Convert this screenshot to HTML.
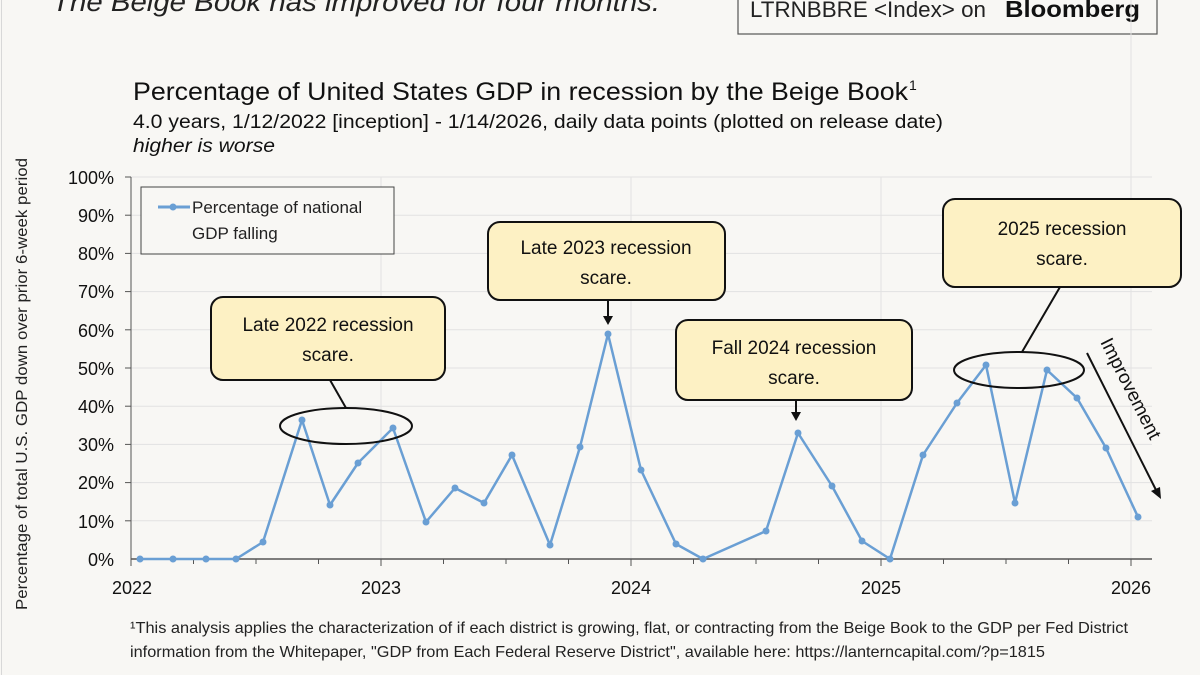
<!DOCTYPE html>
<html><head><meta charset="utf-8"><style>
html,body{margin:0;padding:0;background:#f8f7f4;}
svg{display:block;font-family:"Liberation Sans",sans-serif;}
</style></head><body>
<svg width="1200" height="675" viewBox="0 0 1200 675" xmlns="http://www.w3.org/2000/svg">
<rect width="1200" height="675" fill="#f8f7f4"/>
<line x1="1.5" y1="0" x2="1.5" y2="675" stroke="#d8d8d8"/>
<text x="52" y="11" font-size="27" font-style="italic" fill="#222" textLength="608" lengthAdjust="spacingAndGlyphs">The Beige Book has improved for four months.</text>
<rect x="738" y="-5" width="419" height="39" fill="#f8f7f4" stroke="#555" stroke-width="1.2"/>
<text x="750" y="17" font-size="22" fill="#222" textLength="236" lengthAdjust="spacingAndGlyphs">LTRNBBRE &lt;Index&gt; on</text>
<text x="1005" y="17" font-size="23" font-weight="bold" fill="#111" textLength="135" lengthAdjust="spacingAndGlyphs">Bloomberg</text>
<text x="133" y="100" font-size="25" fill="#111" textLength="775" lengthAdjust="spacingAndGlyphs">Percentage of United States GDP in recession by the Beige Book</text>
<text x="909" y="90" font-size="14" fill="#111">1</text>
<text x="133" y="128" font-size="19" fill="#111" textLength="810" lengthAdjust="spacingAndGlyphs">4.0 years, 1/12/2022 [inception] - 1/14/2026, daily data points (plotted on release date)</text>
<text x="133" y="152" font-size="19" font-style="italic" fill="#111" textLength="142" lengthAdjust="spacingAndGlyphs">higher is worse</text>
<text transform="translate(27,610) rotate(-90)" font-size="16" fill="#222" textLength="452" lengthAdjust="spacingAndGlyphs">Percentage of total U.S. GDP down over prior 6-week period</text>
<g stroke="#e2e2e2" stroke-width="1">
<line x1="131" y1="177" x2="1152" y2="177"/><line x1="131" y1="215.2" x2="1152" y2="215.2"/><line x1="131" y1="253.4" x2="1152" y2="253.4"/><line x1="131" y1="291.6" x2="1152" y2="291.6"/><line x1="131" y1="329.8" x2="1152" y2="329.8"/><line x1="131" y1="368" x2="1152" y2="368"/><line x1="131" y1="406.2" x2="1152" y2="406.2"/><line x1="131" y1="444.4" x2="1152" y2="444.4"/><line x1="131" y1="482.6" x2="1152" y2="482.6"/><line x1="131" y1="520.8" x2="1152" y2="520.8"/>
<line x1="381" y1="177" x2="381" y2="559"/><line x1="631" y1="177" x2="631" y2="559"/><line x1="881" y1="177" x2="881" y2="559"/><line x1="1131" y1="177" x2="1131" y2="559"/>
</g>
<line x1="1131" y1="0" x2="1131" y2="177" stroke="#e2e2e2"/>
<g stroke="#555" stroke-width="1">
<line x1="131" y1="177" x2="131" y2="559"/><line x1="125" y1="177" x2="131" y2="177"/><line x1="125" y1="215.2" x2="131" y2="215.2"/><line x1="125" y1="253.4" x2="131" y2="253.4"/><line x1="125" y1="291.6" x2="131" y2="291.6"/><line x1="125" y1="329.8" x2="131" y2="329.8"/><line x1="125" y1="368" x2="131" y2="368"/><line x1="125" y1="406.2" x2="131" y2="406.2"/><line x1="125" y1="444.4" x2="131" y2="444.4"/><line x1="125" y1="482.6" x2="131" y2="482.6"/><line x1="125" y1="520.8" x2="131" y2="520.8"/>
<line x1="131" y1="559" x2="1152" y2="559" stroke-width="1.5"/>
<path d="M131 559v7M381 559v7M631 559v7M881 559v7M1131 559v7M193.5 559v5M256 559v5M318.5 559v5M443.5 559v5M506 559v5M568.5 559v5M693.5 559v5M756 559v5M818.5 559v5M943.5 559v5M1006 559v5M1068.5 559v5"/>
</g>
<g font-size="18" fill="#111" text-anchor="end">
<text x="114" y="184">100%</text><text x="114" y="222">90%</text><text x="114" y="260">80%</text><text x="114" y="298">70%</text><text x="114" y="337">60%</text><text x="114" y="375">50%</text><text x="114" y="413">40%</text><text x="114" y="451">30%</text><text x="114" y="489">20%</text><text x="114" y="528">10%</text><text x="114" y="566">0%</text>
</g>
<g font-size="18" fill="#111" text-anchor="middle">
<text x="132" y="594">2022</text><text x="381" y="594">2023</text><text x="631" y="594">2024</text><text x="881" y="594">2025</text><text x="1131" y="594">2026</text>
</g>
<rect x="141" y="187" width="253" height="67" fill="#f8f7f4" stroke="#444"/>
<line x1="158" y1="207" x2="190" y2="207" stroke="#6a9fd4" stroke-width="3"/><circle cx="173" cy="207" r="3.5" fill="#6a9fd4"/>
<text x="192" y="213" font-size="17" fill="#222">Percentage of national</text>
<text x="192" y="239" font-size="17" fill="#222">GDP falling</text>
<g fill="#6a9fd4">
<polyline fill="none" stroke="#6a9fd4" stroke-width="2.5" stroke-linejoin="round" points="140,559 173,559 206,559 236,559 263,542 302,420 330,505 358,463 393,428 426,522 455,488 484,503 512,455 550,545 580,447 608,334 641,470 676,544 703,559 766,531 798,433 832,486 862,541 890,559 923,455 957,403 986,365 1015,503 1047,370 1077,398 1106,448 1138,517"/>
<circle cx="140" cy="559" r="3.5"/><circle cx="173" cy="559" r="3.5"/><circle cx="206" cy="559" r="3.5"/><circle cx="236" cy="559" r="3.5"/><circle cx="263" cy="542" r="3.5"/><circle cx="302" cy="420" r="3.5"/><circle cx="330" cy="505" r="3.5"/><circle cx="358" cy="463" r="3.5"/><circle cx="393" cy="428" r="3.5"/><circle cx="426" cy="522" r="3.5"/><circle cx="455" cy="488" r="3.5"/><circle cx="484" cy="503" r="3.5"/><circle cx="512" cy="455" r="3.5"/><circle cx="550" cy="545" r="3.5"/><circle cx="580" cy="447" r="3.5"/><circle cx="608" cy="334" r="3.5"/><circle cx="641" cy="470" r="3.5"/><circle cx="676" cy="544" r="3.5"/><circle cx="703" cy="559" r="3.5"/><circle cx="766" cy="531" r="3.5"/><circle cx="798" cy="433" r="3.5"/><circle cx="832" cy="486" r="3.5"/><circle cx="862" cy="541" r="3.5"/><circle cx="890" cy="559" r="3.5"/><circle cx="923" cy="455" r="3.5"/><circle cx="957" cy="403" r="3.5"/><circle cx="986" cy="365" r="3.5"/><circle cx="1015" cy="503" r="3.5"/><circle cx="1047" cy="370" r="3.5"/><circle cx="1077" cy="398" r="3.5"/><circle cx="1106" cy="448" r="3.5"/><circle cx="1138" cy="517" r="3.5"/>
</g>
<g stroke="#111" stroke-width="2" fill="none">
<ellipse cx="346" cy="426" rx="66" ry="18"/>
<line x1="330" y1="380" x2="346" y2="408"/>
<ellipse cx="1019" cy="370" rx="65" ry="18"/>
<line x1="1060" y1="287" x2="1022" y2="352"/>
<line x1="608" y1="300" x2="608" y2="318"/>
<line x1="796" y1="400" x2="796" y2="414"/>
<line x1="1087" y1="353" x2="1156" y2="490"/>
</g>
<g fill="#111">
<path d="M603 316 L613 316 L608 325 Z"/>
<path d="M791 412 L801 412 L796 421 Z"/>
<path d="M1151 491 L1160 487 L1161 499 Z"/>
</g>
<g fill="#fdf1c4" stroke="#111" stroke-width="2">
<rect x="211" y="297" width="234" height="83" rx="12"/>
<rect x="488" y="222" width="237" height="78" rx="12"/>
<rect x="676" y="320" width="236" height="80" rx="12"/>
<rect x="943" y="199" width="238" height="88" rx="12"/>
</g>
<g font-size="19" fill="#111" text-anchor="middle">
<text x="328" y="331">Late 2022 recession</text><text x="328" y="361">scare.</text>
<text x="606" y="254">Late 2023 recession</text><text x="606" y="284">scare.</text>
<text x="794" y="354">Fall 2024 recession</text><text x="794" y="384">scare.</text>
<text x="1062" y="235">2025 recession</text><text x="1062" y="265">scare.</text>
</g>
<text transform="translate(1100,342) rotate(63)" font-size="19" fill="#111">Improvement</text>
<text x="130" y="633" font-size="16" fill="#222" textLength="998" lengthAdjust="spacingAndGlyphs">¹This analysis applies the characterization of if each district is growing, flat, or contracting from the Beige Book to the GDP per Fed District</text>
<text x="130" y="657" font-size="16" fill="#222" textLength="915" lengthAdjust="spacingAndGlyphs">information from the Whitepaper, "GDP from Each Federal Reserve District", available here: https://lanterncapital.com/?p=1815</text>
</svg>
</body></html>
